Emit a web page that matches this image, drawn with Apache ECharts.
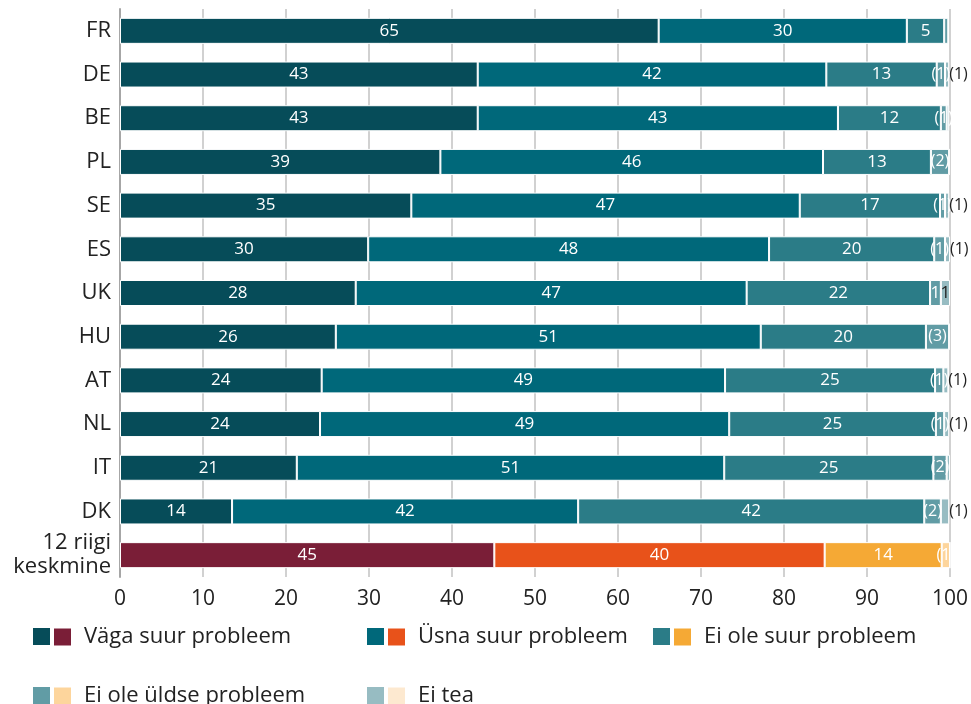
<!DOCTYPE html>
<html>
<head>
<meta charset="UTF-8">
<title>Probleemi hinnang riigiti</title>
<script type="text/javascript" src="https://cdn.jsdelivr.net/npm/echarts@6/dist/echarts.min.js"></script>
<style>
	html, body { margin: 0; padding: 0; background: #fff; }
</style>
</head>
<body>
	<div id="main" style="width: 971px;height:704px;"></div>
</body>
<script type="text/javascript">
	// andmed
	var categories = ['FR', 'DE', 'BE', 'PL', 'SE', 'ES', 'UK', 'HU', 'AT', 'NL', 'IT', 'DK', '12 riigi\nkeskmine'];
	var seriesNames = ['Väga suur probleem', 'Üsna suur probleem', 'Ei ole suur probleem', 'Ei ole üldse probleem', 'Ei tea'];

	var vagaSuur   = [64.9, 43.1, 43.1, 38.6, 35.1, 29.9, 28.4, 26.0, 24.3, 24.1, 21.3, 13.5];
	var usnaSuur   = [29.9, 42.0, 43.4, 46.1, 46.8, 48.3, 47.1, 51.2, 48.6, 49.3, 51.5, 41.7];
	var eiOleSuur  = [4.5, 13.3, 12.4, 13.0, 16.9, 19.9, 22.1, 19.9, 25.3, 24.9, 25.2, 41.7];
	var eiOleUldse = [0.5, 1.0, 0.7, 2.2, 0.6, 1.3, 1.3, 2.8, 1.0, 1.0, 1.6, 2.0];
	var eiTea      = [0, 0.5, 0.3, 0, 0.5, 0.6, 1.1, 0, 0.6, 0.6, 0.4, 1.0];

	var lblVaga       = ['65', '43', '43', '39', '35', '30', '28', '26', '24', '24', '21', '14'];
	var lblUsna       = ['30', '42', '43', '46', '47', '48', '47', '51', '49', '49', '51', '42'];
	var lblEiOleSuur  = ['5', '13', '12', '13', '17', '20', '22', '20', '25', '25', '25', '42'];
	var lblEiOleUldse = ['', '(1)', '(1)', '(2)', '(1)', '(1)', '1', '(3)', '(1)', '(1)', '(2)', '(2)'];
	var lblEiTea      = ['', '(1)', '', '', '(1)', '(1)', '1', '', '(1)', '(1)', '', '(1)'];

	// 12 riigi keskmine
	var keskmine    = [45.1, 39.8, 14.1, 1.0, 0];
	var lblKeskmine = ['45', '40', '14', '(1)', ''];

	var tealColors = ['#064c59', '#00687a', '#2b7c87', '#619ca5', '#97bcc2'];
	var avgColors  = ['#7a1e37', '#e8521a', '#f5a935', '#fdd59c', '#fde9d0'];

	var FONT = '"Open Sans", sans-serif';
	var myChart = echarts.init(document.getElementById('main'));

	var countryValues = [vagaSuur, usnaSuur, eiOleSuur, eiOleUldse, eiTea];
	var countryLabels = [lblVaga, lblUsna, lblEiOleSuur, lblEiOleUldse, lblEiTea];

	function labelItem(v, txt, isLast) {
		var label = { show: txt !== '' };
		if (txt.charAt(0) === '(') label.fontSize = 16;
		if (isLast && txt === '(1)') {
			label.position = 'right';
			label.distance = 0;
			label.color = '#222';
		} else if (isLast) {
			label.color = '#222';
		}
		return { value: v, label: label, labelText: txt };
	}

	var barLabel = {
		show: true,
		position: 'inside',
		color: '#fff',
		fontSize: 17,
		fontFamily: FONT,
		formatter: function (p) { return p.data.labelText; }
	};

	var series = [];
	// rea väärtused: riigid + keskmine (viimane rida)
	function rowData(s, avg) {
		var d = [];
		for (var i = 0; i < categories.length - 1; i++) d.push(avg ? '-' : countryValues[s][i]);
		d.push(avg ? keskmine[s] : '-');
		return d;
	}
	function rowLabels(s, avg) {
		var d = [];
		for (var i = 0; i < categories.length - 1; i++) {
			d.push(avg ? '-' : labelItem(countryValues[s][i], countryLabels[s][i], s === 4));
		}
		d.push(avg ? labelItem(keskmine[s], lblKeskmine[s], false) : '-');
		return d;
	}

	for (var g = 0; g < 2; g++) {
		for (var s = 0; s < 5; s++) {
			series.push({
				name: g === 0 ? seriesNames[s] : seriesNames[s] + ' – keskmine',
				type: 'bar',
				stack: 'kokku',
				barWidth: 26,
				barGap: '-100%',
				itemStyle: { color: (g === 0 ? tealColors : avgColors)[s], borderColor: '#fff', borderWidth: 1 },
				data: rowData(s, g === 1)
			});
		}
	}
	// siltide kiht eraldi läbipaistvate tulpadena, et sildid jääks kõigi lõikude peale
	for (var g2 = 0; g2 < 2; g2++) {
		for (var s2 = 0; s2 < 5; s2++) {
			series.push({
				type: 'bar',
				stack: 'sildid',
				barWidth: 26,
				barGap: '-100%',
				z: 20,
				silent: true,
				itemStyle: { color: 'rgba(0,0,0,0)', borderWidth: 0 },
				label: barLabel,
				data: rowLabels(s2, g2 === 1)
			});
		}
	}

	// legend: kaks ruutu + tekst
	var legendPos = [[31, 626], [365, 626], [651, 626], [31, 685], [365, 685]];
	var legends = [];
	for (var k = 0; k < 5; k++) {
		legends.push({
			left: legendPos[k][0], top: legendPos[k][1], padding: 0,
			icon: 'rect', itemWidth: 19, itemHeight: 19,
			data: [seriesNames[k]],
			formatter: function () { return ''; },
			textStyle: { fontSize: 1 }
		});
		legends.push({
			left: legendPos[k][0] + 21, top: legendPos[k][1], padding: 0,
			icon: 'rect', itemWidth: 19, itemHeight: 19,
			data: [seriesNames[k] + ' – keskmine'],
			formatter: function (name) { return name.split(' – ')[0]; },
			textStyle: { fontSize: 22, color: '#222', fontFamily: FONT, padding: [0, 0, 0, 7] }
		});
	}

	option = {
		animation: false,
		textStyle: { fontFamily: FONT },
		grid: { left: 120, top: 9, width: 830, height: 568, containLabel: false },
		legend: legends,
		xAxis: {
			type: 'value',
			min: 0,
			max: 100,
			interval: 10,
			axisLine: { show: false },
			axisTick: { show: false },
			axisLabel: { fontSize: 21, color: '#222', margin: 12, fontFamily: FONT },
			splitLine: { show: true, lineStyle: { color: '#c2c2c2', width: 1.5 } }
		},
		yAxis: {
			type: 'category',
			inverse: true,
			data: categories,
			axisLine: { show: true, lineStyle: { color: '#a6a6a6', width: 2 } },
			axisTick: { show: false },
			axisLabel: { fontSize: 22, color: '#222', margin: 9, lineHeight: 24, fontFamily: FONT }
		},
		series: series
	};
	myChart.setOption(option);
</script>
</html>
